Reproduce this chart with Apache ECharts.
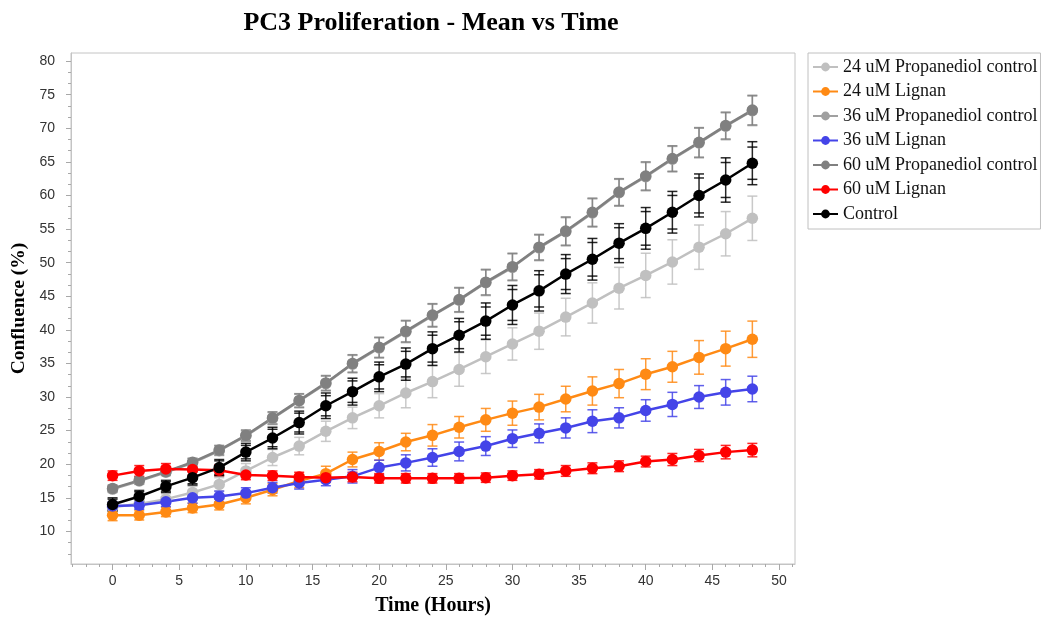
<!DOCTYPE html>
<html>
<head>
<meta charset="utf-8">
<script src="https://cdn.jsdelivr.net/npm/echarts@6/dist/echarts.min.js"></script>
<style>
  html, body { margin: 0; padding: 0; background: #fff; }
  #chart { width: 1042px; height: 621px; }
</style>
</head>
<body>
<div id="chart"></div>
<script>
// time points (hours)
const hours = [0, 2, 4, 6, 8, 10, 12, 14, 16, 18, 20, 22, 24, 26, 28, 30, 32, 34, 36, 38, 40, 42, 44, 46, 48];

// mean confluence (%) and error (+/-) per group
const prop24 = [13.6, 14.1, 14.8, 15.8, 17.0, 19.0, 21.0, 22.7, 24.9, 26.9, 28.7, 30.6, 32.3, 34.1, 36.0, 37.9, 39.8, 41.9, 44.0, 46.2, 48.1, 50.1, 52.3, 54.3, 56.6];
const prop24Err = [0.7, 0.7, 0.8, 0.9, 1.0, 1.1, 1.2, 1.3, 1.5, 1.6, 1.8, 2.2, 2.4, 2.5, 2.5, 2.4, 2.7, 2.8, 3.0, 3.1, 3.3, 3.3, 3.3, 3.3, 3.3];

const lignan24 = [12.4, 12.4, 12.9, 13.5, 14.0, 15.0, 16.2, 17.5, 18.6, 20.7, 21.9, 23.3, 24.3, 25.5, 26.6, 27.6, 28.5, 29.7, 30.9, 32.0, 33.4, 34.5, 35.9, 37.2, 38.6];
const lignan24Err = [0.8, 0.7, 0.7, 0.7, 0.8, 0.9, 0.9, 1.0, 1.1, 1.1, 1.3, 1.3, 1.6, 1.6, 1.7, 1.8, 1.9, 1.9, 2.1, 2.1, 2.3, 2.3, 2.5, 2.6, 2.7];

const prop36 = [16.3, 17.5, 18.8, 20.2, 22.0, 24.2, 26.8, 29.4, 32.0, 34.9, 37.3, 39.7, 42.1, 44.4, 47.0, 49.3, 52.2, 54.6, 57.4, 60.4, 62.8, 65.4, 67.8, 70.3, 72.6];
const prop36Err = [0.5, 0.5, 0.5, 0.6, 0.7, 0.8, 0.9, 1.0, 1.1, 1.3, 1.5, 1.6, 1.7, 1.8, 1.9, 2.0, 1.9, 2.1, 2.1, 2.0, 2.1, 1.9, 2.2, 2.0, 2.2];

const lignan36 = [13.8, 13.9, 14.4, 15.0, 15.2, 15.7, 16.5, 17.2, 17.7, 18.2, 19.5, 20.2, 21.0, 21.9, 22.7, 23.8, 24.6, 25.4, 26.4, 26.9, 28.0, 28.9, 30.0, 30.7, 31.2];
const lignan36Err = [0.6, 0.6, 0.7, 0.8, 0.8, 0.8, 0.8, 0.9, 0.9, 1.0, 1.1, 1.2, 1.3, 1.4, 1.4, 1.3, 1.4, 1.5, 1.7, 1.5, 1.6, 1.8, 1.7, 1.9, 1.9];

const prop60 = [16.4, 17.6, 18.9, 20.3, 22.1, 24.3, 26.9, 29.5, 32.1, 35.0, 37.4, 39.8, 42.2, 44.5, 47.1, 49.4, 52.3, 54.7, 57.5, 60.5, 62.9, 65.5, 67.9, 70.4, 72.7];
const prop60Err = [0.5, 0.5, 0.5, 0.6, 0.7, 0.8, 0.9, 1.0, 1.1, 1.3, 1.5, 1.6, 1.7, 1.8, 1.9, 2.0, 1.9, 2.1, 2.1, 2.0, 2.1, 1.9, 2.2, 2.0, 2.2];

const lignan60 = [18.3, 19.0, 19.3, 19.2, 19.1, 18.4, 18.3, 18.1, 18.0, 18.1, 17.9, 17.9, 17.9, 17.9, 18.0, 18.3, 18.5, 19.0, 19.4, 19.7, 20.4, 20.7, 21.3, 21.8, 22.1];
const lignan60Err = [0.7, 0.8, 0.8, 0.8, 0.8, 0.7, 0.7, 0.7, 0.7, 0.7, 0.7, 0.7, 0.7, 0.7, 0.7, 0.7, 0.7, 0.8, 0.8, 0.8, 0.8, 0.9, 0.9, 1.0, 1.0];

const control = [14.0, 15.2, 16.7, 18.0, 19.5, 21.8, 23.9, 26.2, 28.7, 30.8, 33.0, 34.9, 37.2, 39.2, 41.3, 43.7, 45.8, 48.3, 50.5, 52.9, 55.1, 57.5, 60.0, 62.3, 64.8];
const controlErr = [1.0, 0.9, 0.9, 1.1, 1.2, 1.3, 1.6, 1.7, 1.9, 2.0, 2.2, 2.4, 2.5, 2.5, 2.7, 2.9, 3.0, 2.9, 3.1, 2.9, 3.1, 3.1, 3.2, 3.3, 3.2];
// the control bars carry a second, shorter pair of caps
const controlErrInner = [0.8, 0.7, 0.7, 0.9, 1.0, 1.0, 1.3, 1.4, 1.5, 1.6, 1.8, 1.9, 2.0, 2.0, 2.1, 2.3, 2.4, 2.3, 2.5, 2.3, 2.5, 2.5, 2.6, 2.6, 2.4];

const groups = [
  { name: '24 uM Propanediol control', color: '#c0c0c0', mean: prop24, err: prop24Err },
  { name: '24 uM Lignan', color: '#ff8a14', mean: lignan24, err: lignan24Err },
  { name: '36 uM Propanediol control', color: '#a0a0a0', mean: prop36, err: prop36Err },
  { name: '36 uM Lignan', color: '#4444e8', mean: lignan36, err: lignan36Err },
  { name: '60 uM Propanediol control', color: '#808080', mean: prop60, err: prop60Err },
  { name: '60 uM Lignan', color: '#ff0000', mean: lignan60, err: lignan60Err },
  { name: 'Control', color: '#000000', mean: control, err: controlErr, inner: controlErrInner }
];

const xMajor = [0, 5, 10, 15, 20, 25, 30, 35, 40, 45, 50];
const xMinor = [];
for (let v = -3; v <= 51; v++) xMinor.push(v);
const yMajor = [10, 15, 20, 25, 30, 35, 40, 45, 50, 55, 60, 65, 70, 75, 80];
const yMinor = [];
for (let k = -2; k <= 42; k++) yMinor.push(10 + k * 5 / 3);

const chart = echarts.init(document.getElementById('chart'));

const serif = 'Liberation Serif';
const sans = 'Liberation Sans';

function errorBarRenderer(color, withInner) {
  return function (params, api) {
    const x = api.value(0);
    const lo = api.value(1);
    const hi = api.value(2);
    const top = api.coord([x, hi]);
    const bot = api.coord([x, lo]);
    const w = 5;
    const style = { stroke: color, lineWidth: 1.5, opacity: 0.85 };
    const children = [
      { type: 'line', shape: { x1: top[0], y1: top[1], x2: bot[0], y2: bot[1] }, style: style },
      { type: 'line', shape: { x1: top[0] - w, y1: top[1], x2: top[0] + w, y2: top[1] }, style: style },
      { type: 'line', shape: { x1: bot[0] - w, y1: bot[1], x2: bot[0] + w, y2: bot[1] }, style: style }
    ];
    if (withInner) {
      const ilo = api.coord([x, api.value(3)]);
      const ihi = api.coord([x, api.value(4)]);
      children.push(
        { type: 'line', shape: { x1: ihi[0] - w, y1: ihi[1], x2: ihi[0] + w, y2: ihi[1] }, style: style },
        { type: 'line', shape: { x1: ilo[0] - w, y1: ilo[1], x2: ilo[0] + w, y2: ilo[1] }, style: style }
      );
    }
    return { type: 'group', children: children };
  };
}

const lineSeries = groups.map(function (g) {
  return {
    name: g.name,
    type: 'line',
    z: 3,
    data: hours.map(function (h, j) { return [h, g.mean[j]]; }),
    symbol: 'circle',
    symbolSize: 11.5,
    showSymbol: true,
    lineStyle: { color: g.color, width: 2.5 },
    itemStyle: { color: g.color },
    emphasis: { disabled: true }
  };
});

const errSeries = groups.map(function (g) {
  return {
    name: g.name,
    type: 'custom',
    z: 2,
    renderItem: errorBarRenderer(g.color, !!g.inner),
    encode: { x: 0, y: [1, 2] },
    data: hours.map(function (h, j) {
      const row = [h, g.mean[j] - g.err[j], g.mean[j] + g.err[j]];
      if (g.inner) row.push(g.mean[j] - g.inner[j], g.mean[j] + g.inner[j]);
      return row;
    }),
    silent: true
  };
});

const option = {
  animation: false,
  backgroundColor: '#fff',
  title: {
    text: 'PC3 Proliferation - Mean vs Time',
    left: 431,
    top: 10,
    textAlign: 'center',
    padding: 0,
    textStyle: { fontFamily: serif, fontWeight: 'bold', fontSize: 26, color: '#000' }
  },
  legend: {
    orient: 'vertical',
    left: 808,
    top: 53,
    padding: [5, 3, 6, 4],
    itemGap: 6.5,
    itemWidth: 25,
    itemHeight: 11,
    borderColor: '#c0c0c0',
    borderWidth: 1,
    borderRadius: 0,
    data: groups.map(function (g) { return g.name; }),
    textStyle: { fontFamily: serif, fontSize: 18, color: '#111', lineHeight: 18, padding: [0, 0, 0, 0] }
  },
  grid: {
    left: 71,
    right: 247,
    top: 53,
    bottom: 56,
    show: true,
    borderColor: '#c4c4c4',
    borderWidth: 1,
    containLabel: false
  },
  xAxis: [
    {
      type: 'value',
      min: -3.12,
      max: 51.2,
      name: 'Time (Hours)',
      nameLocation: 'middle',
      nameGap: 32,
      nameTextStyle: { fontFamily: serif, fontWeight: 'bold', fontSize: 20, color: '#000' },
      axisLine: { show: true, onZero: false, lineStyle: { color: '#c4c4c4' } },
      axisTick: { show: true, length: 6, customValues: xMajor, lineStyle: { color: '#a8a8a8' } },
      axisLabel: { customValues: xMajor, margin: 10, fontFamily: sans, fontSize: 14, color: '#333' },
      splitLine: { show: false }
    },
    {
      type: 'value',
      min: -3.12,
      max: 51.2,
      position: 'bottom',
      axisLine: { show: false, onZero: false },
      axisTick: { show: true, length: 3, customValues: xMinor, lineStyle: { color: '#a8a8a8' } },
      axisLabel: { show: false },
      splitLine: { show: false }
    }
  ],
  yAxis: [
    {
      type: 'value',
      min: 5.15,
      max: 81.2,
      name: 'Confluence (%)',
      nameLocation: 'middle',
      nameGap: 35,
      nameTextStyle: { fontFamily: serif, fontWeight: 'bold', fontSize: 19.5, color: '#000' },
      axisLine: { show: true, onZero: false, lineStyle: { color: '#c4c4c4' } },
      axisTick: { show: true, length: 5, customValues: yMajor, lineStyle: { color: '#a8a8a8' } },
      axisLabel: { customValues: yMajor, margin: 16, fontFamily: sans, fontSize: 14, color: '#333' },
      splitLine: { show: false }
    },
    {
      type: 'value',
      min: 5.15,
      max: 81.2,
      position: 'left',
      axisLine: { show: false, onZero: false },
      axisTick: { show: true, length: 3, customValues: yMinor.filter(function (v) { return v > 5.15 && v < 81.2; }), lineStyle: { color: '#a8a8a8' } },
      axisLabel: { show: false },
      splitLine: { show: false }
    }
  ],
  series: lineSeries.concat(errSeries)
};

chart.setOption(option);
</script>
</body>
</html>
